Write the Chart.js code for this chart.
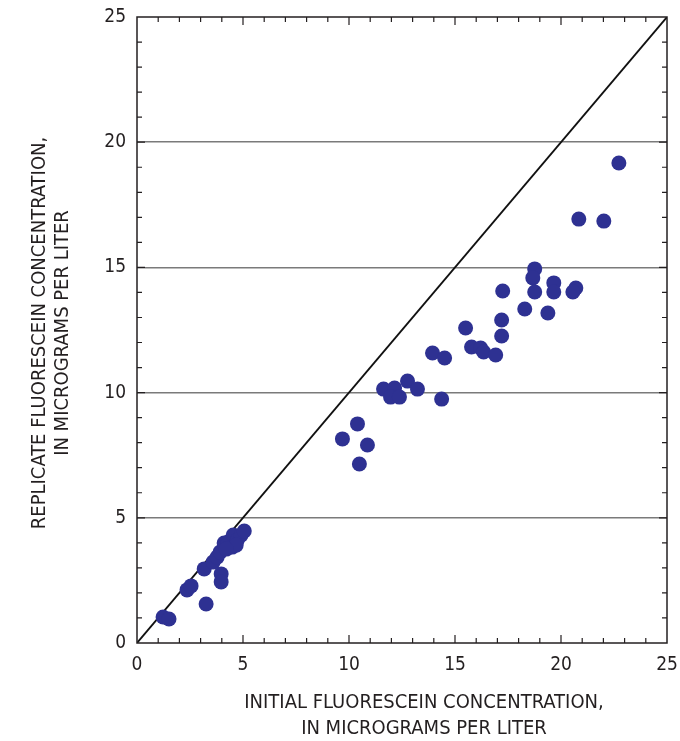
<!DOCTYPE html>
<html>
<head>
<meta charset="utf-8">
<script src="https://cdn.jsdelivr.net/npm/chart.js@4"></script>
<style>
  body { margin: 0; background: #fff; }
  canvas { display: block; }
</style>
</head>
<body>
<canvas id="fluoChart" width="680" height="741"></canvas>
<script>
    // initial vs replicate fluorescein concentration, micrograms per liter
    const initialConc = [
        1.23, 1.51, 2.36, 2.55, 3.26, 3.17, 3.97, 3.97, 3.59, 3.78,
        3.92, 4.11, 4.30, 4.54, 4.49, 4.73, 4.91, 5.06, 4.68, 4.21,
        9.69, 10.40, 10.87, 10.49, 11.63, 12.15, 11.96, 12.38, 12.76, 13.23,
        14.37, 13.94, 14.51, 15.50, 15.78, 16.21, 16.35, 16.92, 17.20, 17.20,
        17.25, 18.29, 18.76, 18.67, 19.66, 18.76, 19.66, 20.70, 20.56, 19.38,
        22.73, 20.84, 22.02
    ];
    const replicateConc = [
        1.04, 0.96, 2.12, 2.28, 1.56, 2.96, 2.76, 2.44, 3.23, 3.43,
        3.63, 3.99, 4.03, 4.31, 3.83, 4.11, 4.31, 4.47, 3.91, 3.75,
        8.15, 8.75, 7.91, 7.15, 10.14, 10.18, 9.82, 9.82, 10.46, 10.14,
        9.74, 11.58, 11.38, 12.58, 11.82, 11.78, 11.62, 11.50, 12.90, 12.26,
        14.06, 13.34, 14.94, 14.58, 14.38, 14.02, 14.02, 14.18, 14.02, 13.18,
        19.17, 16.93, 16.85
    ];
    // 1:1 line
    const equalLine = [0, 25];
    const axisMax = 25;
    const xTitle = ["INITIAL FLUORESCEIN CONCENTRATION,", "IN MICROGRAMS PER LITER"];
    const yTitle = ["REPLICATE FLUORESCEIN CONCENTRATION,", "IN MICROGRAMS PER LITER"];

    const FONT = "'Liberation Sans Narrow', 'DejaVu Sans Condensed', 'Roboto', sans-serif";
    const INK = "#231f20";

    // frame, inward ticks and axis titles
    const framePlugin = {
        id: "frame",
        afterDraw(chart) {
            const { ctx, chartArea: a, scales: { x, y } } = chart;
            ctx.save();
            ctx.strokeStyle = INK;
            ctx.lineWidth = 1.5;
            ctx.strokeRect(a.left, a.top, a.right - a.left, a.bottom - a.top);
            ctx.lineWidth = 1.2;
            ctx.beginPath();
            for (let v = 1; v < axisMax; v++) {
                const len = v % 5 === 0 ? 8 : 5;
                const px = x.getPixelForValue(v);
                const py = y.getPixelForValue(v);
                ctx.moveTo(px, a.bottom); ctx.lineTo(px, a.bottom - len);
                ctx.moveTo(px, a.top); ctx.lineTo(px, a.top + len);
                ctx.moveTo(a.left, py); ctx.lineTo(a.left + len, py);
                ctx.moveTo(a.right, py); ctx.lineTo(a.right - len, py);
            }
            ctx.stroke();

            ctx.fillStyle = INK;
            ctx.font = "20px " + FONT;
            ctx.textAlign = "center";
            ctx.textBaseline = "middle";
            ctx.fillText(xTitle[0], 424, 703);
            ctx.fillText(xTitle[1], 424, 729);
            ctx.translate(0, 333);
            ctx.rotate(-Math.PI / 2);
            ctx.fillText(yTitle[0], 0, 40);
            ctx.fillText(yTitle[1], 0, 63);
            ctx.restore();
        }
    };

    const tickLabel = v => (v % 5 === 0 ? String(v) : "");

    new Chart(document.getElementById("fluoChart"), {
        type: "scatter",
        data: {
            datasets: [
                {
                    label: "Samples",
                    data: initialConc.map((v, i) => ({ x: v, y: replicateConc[i] })),
                    backgroundColor: "#2e3192",
                    borderWidth: 0,
                    pointRadius: 7.5,
                    pointHoverRadius: 7.5
                },
                {
                    label: "1:1",
                    type: "line",
                    data: equalLine.map(v => ({ x: v, y: v })),
                    borderColor: "#111",
                    borderWidth: 1.8,
                    pointRadius: 0,
                    fill: false
                }
            ]
        },
        options: {
            responsive: false,
            animation: false,
            devicePixelRatio: 1,
            layout: { padding: { top: 17, right: 13, left: 0, bottom: 0 } },
            plugins: { legend: { display: false }, tooltip: { enabled: false } },
            scales: {
                x: {
                    type: "linear",
                    min: 0,
                    max: axisMax,
                    afterFit: s => { s.height = 98; s.paddingLeft = 0; s.paddingRight = 0; },
                    border: { display: false },
                    grid: { display: false, drawTicks: false },
                    ticks: {
                        stepSize: 1,
                        autoSkip: false,
                        maxRotation: 0,
                        padding: 11,
                        color: INK,
                        font: { family: FONT, size: 19 },
                        callback: tickLabel
                    }
                },
                y: {
                    type: "linear",
                    min: 0,
                    max: axisMax,
                    afterFit: s => { s.width = 137; s.paddingTop = 0; s.paddingBottom = 0; },
                    border: { display: false },
                    grid: {
                        drawTicks: false,
                        lineWidth: 1.5,
                        color: c => (c.tick && c.tick.value % 5 === 0 && c.tick.value > 0 && c.tick.value < axisMax) ? "#7a7a7a" : "rgba(0,0,0,0)"
                    },
                    ticks: {
                        stepSize: 1,
                        autoSkip: false,
                        padding: 11,
                        color: INK,
                        font: { family: FONT, size: 19 },
                        callback: tickLabel
                    }
                }
            }
        },
        plugins: [framePlugin]
    });
</script>
</body>
</html>
